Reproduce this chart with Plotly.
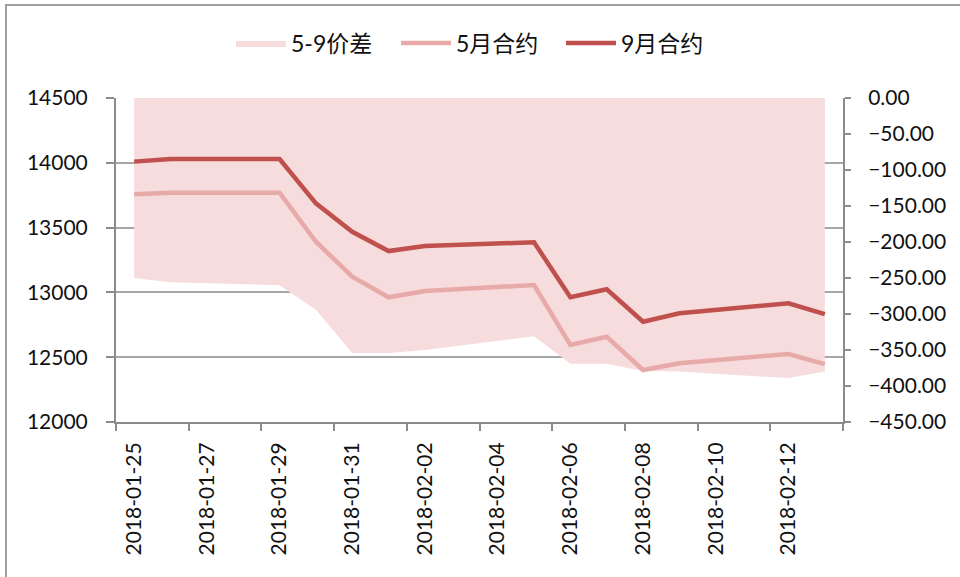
import pandas as pd
import plotly.graph_objects as go

# ---- data ----
dates = ["2018-01-25", "2018-01-26", "2018-01-29", "2018-01-30", "2018-01-31",
         "2018-02-01", "2018-02-02", "2018-02-05", "2018-02-06", "2018-02-07",
         "2018-02-08", "2018-02-09", "2018-02-12", "2018-02-13"]
may_contract = [13757, 13769, 13769, 13391, 13121, 12962, 13011, 13057, 12594, 12658,
                12401, 12453, 12525, 12447]
sep_contract = [14009, 14029, 14029, 13687, 13468, 13319, 13358, 13387, 12962, 13024,
                12774, 12839, 12916, 12833]
spread_59 = [-250, -256, -260, -294, -354, -354, -350, -331, -369, -369,
             -379, -380, -389, -380]

x_label_dates = ["2018-01-25", "2018-01-27", "2018-01-29", "2018-01-31", "2018-02-02",
                 "2018-02-04", "2018-02-06", "2018-02-08", "2018-02-10", "2018-02-12"]

name_spread = "5-9价差"
name_may = "5月合约"
name_sep = "9月合约"

# ---- styling ----
FONT = "Lato, 'Noto Sans CJK SC', sans-serif"
AXIS_GRAY = "#8C8C8C"
GRID_GRAY = "#A6A6A6"

x_start = pd.Timestamp(dates[0]) - pd.Timedelta(hours=12)
x_end = pd.Timestamp(dates[-1]) + pd.Timedelta(hours=12)
boundary_ticks = list(pd.date_range(x_start, x_end, freq="2D"))

fig = go.Figure()
# spread area on the primary (right-hand) axis so it sits beneath the price lines
fig.add_trace(go.Scatter(
    x=dates, y=spread_59, name=name_spread, yaxis="y",
    mode="lines", line=dict(width=0, color="#F6DCDC"),
    fill="tozeroy", fillcolor="#F6DCDC"))
fig.add_trace(go.Scatter(
    x=dates, y=may_contract, name=name_may, mode="lines", yaxis="y2",
    line=dict(color="#E8A9A9", width=4.5)))
fig.add_trace(go.Scatter(
    x=dates, y=sep_contract, name=name_sep, mode="lines", yaxis="y2",
    line=dict(color="#C0504D", width=4.5)))

fig.update_layout(
    width=960, height=577,
    margin=dict(l=116, r=117, t=98, b=155, autoexpand=False),
    paper_bgcolor="white", plot_bgcolor="white",
    font=dict(family=FONT, size=21, color="#111111"),
    showlegend=True,
    legend=dict(orientation="h", x=(231 - 116) / 727, xanchor="left",
                y=1 + (98 - 43) / 324, yanchor="middle",
                font=dict(family=FONT, size=23, color="#111111"),
                itemwidth=50, entrywidth=100, entrywidthmode="pixels",
                traceorder="normal", bgcolor="rgba(0,0,0,0)"),
    xaxis=dict(
        type="date", range=[x_start, x_end],
        tickmode="array", tickvals=x_label_dates, ticktext=x_label_dates,
        tickangle=-90, ticks="", ticklabelstandoff=10,
        showline=True, linecolor=AXIS_GRAY, linewidth=2,
        showgrid=False, zeroline=False,
        minor=dict(tickmode="array", tickvals=boundary_ticks, ticks="outside",
                   ticklen=7, tickwidth=2, tickcolor=AXIS_GRAY, showgrid=False),
        tickfont=dict(size=21)),
    yaxis=dict(
        range=[-450, 0], dtick=50, tick0=0, tickformat=".2f",
        side="right",
        ticks="outside", ticklen=6, tickwidth=2, tickcolor=AXIS_GRAY,
        showline=True, linecolor=AXIS_GRAY, linewidth=2,
        showgrid=False, zeroline=False, ticklabelstandoff=13,
        tickfont=dict(size=21)),
    yaxis2=dict(
        range=[12000, 14500], dtick=500, tick0=12000, tickformat="d",
        overlaying="y", side="left",
        ticks="outside", ticklen=8, tickwidth=2, tickcolor=AXIS_GRAY,
        showline=True, linecolor=AXIS_GRAY, linewidth=2,
        showgrid=True, gridcolor=GRID_GRAY, gridwidth=2,
        zeroline=False, ticklabelstandoff=14, tickfont=dict(size=21)),
)

# outer chart border (extends past the right and bottom edges as in the reference)
fig.add_shape(type="rect", xref="paper", yref="paper",
              x0=(6 - 116) / 727, x1=(970 - 116) / 727,
              y0=(422 - 590) / 324, y1=1 + (98 - 5) / 324,
              line=dict(color="#A0A0A0", width=2), fillcolor="rgba(0,0,0,0)",
              layer="below")

fig.write_html("out.html", config={"displayModeBar": False},
               post_script="document.body.style.margin='0px';")
